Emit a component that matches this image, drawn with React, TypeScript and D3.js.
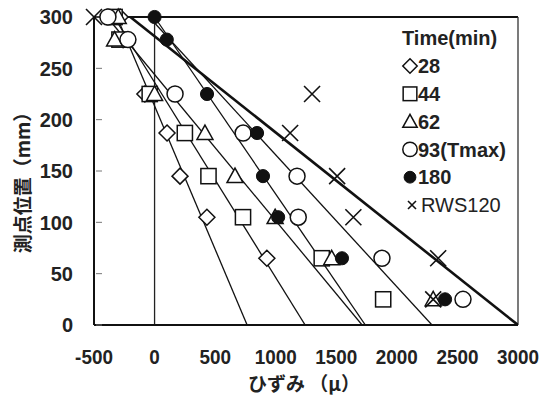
import React from "react";
import * as d3 from "d3";

const depths = [300, 278, 225, 187, 145, 105, 65, 25];
const s28 = [-285, -260, -80, 103, 210, 432, 927, null];
const s44 = [-330, -290, -40, 250, 445, 730, 1380, 1887];
const s62 = [-300, -330, 0, 416, 664, 995, 1462, 2300];
const s93 = [-385, -220, 169, 731, 1176, 1186, 1877, 2546];
const s180 = [0, 101, 433, 846, 895, 1020, 1547, 2398];
const sRWS = [-500, null, 1300, 1119, 1507, 1641, 2341, 2300];

// reference lines: strain at depth 300 and at depth 0
const lineTop = [-310, -335, -393, 0, -45, -200];
const lineBottom = [764, 1243, 1713, 1740, 2290, 3000];
const lineWidths = [1.3, 1.3, 1.3, 1.3, 1.3, 2.6];

const xTicks = [-500, 0, 500, 1000, 1500, 2000, 2500, 3000];
const yTicks = [0, 50, 100, 150, 200, 250, 300];

const legendLabels = ["28", "44", "62", "93(Tmax)", "180", "RWS120"];
const shapes = ["diamond", "square", "triangle", "circle", "filled", "cross"];
const seriesList = [s28, s44, s62, s93, s180, sRWS];

const NUMFONT = "'Liberation Sans', Arial, sans-serif";
const LEGFONT = "'Liberation Sans', Arial, sans-serif";
const CJK = "'Noto Sans CJK JP', sans-serif";

function Marker({ shape, x, y, scale = 1 }: { shape: string; x: number; y: number; scale?: number }) {
  const s = 8 * scale;
  const stroke = "#111";
  const sw = 1.5;
  switch (shape) {
    case "diamond":
      return <path d={`M${x},${y - s} L${x + s},${y} L${x},${y + s} L${x - s},${y} Z`} fill="white" stroke={stroke} strokeWidth={sw} />;
    case "square":
      return <rect x={x - s * 0.95} y={y - s * 0.95} width={s * 1.9} height={s * 1.9} fill="white" stroke={stroke} strokeWidth={sw} />;
    case "triangle":
      return <path d={`M${x},${y - s} L${x + s},${y + s * 0.8} L${x - s},${y + s * 0.8} Z`} fill="white" stroke={stroke} strokeWidth={sw} />;
    case "circle":
      return <circle cx={x} cy={y} r={s} fill="white" stroke={stroke} strokeWidth={sw} />;
    case "filled":
      return <circle cx={x} cy={y} r={s * 0.82} fill="#111" stroke={stroke} strokeWidth={1} />;
    case "cross":
      return (
        <path d={`M${x - s},${y - s} L${x + s},${y + s} M${x + s},${y - s} L${x - s},${y + s}`} stroke={stroke} strokeWidth={1.6} fill="none" />
      );
  }
  return null;
}

export default function App() {
  const W = 552, H = 399;
  const x = d3.scaleLinear().domain([-500, 3000]).range([94, 518]);
  const y = d3.scaleLinear().domain([0, 300]).range([325, 17]);
  const lineGen = d3.line<[number, number]>().x((d) => x(d[0])).y((d) => y(d[1]));

  return (
    <svg width={W} height={H} style={{ position: "absolute", left: 0, top: 0, background: "white" }}>
      <rect width={W} height={H} fill="white" />
      <defs>
        <clipPath id="plot">
          <rect x={94} y={10} width={424} height={315} />
        </clipPath>
      </defs>
      {/* frame */}
      <line x1={x(-500)} x2={x(3000)} y1={y(300)} y2={y(300)} stroke="#111" strokeWidth={2} />
      <line x1={x(3000)} x2={x(3000)} y1={y(300)} y2={y(0)} stroke="#333" strokeWidth={1.3} />
      <line x1={x(0)} x2={x(0)} y1={y(300)} y2={y(0)} stroke="#222" strokeWidth={1.3} />
      <line x1={x(-500)} x2={x(-500)} y1={y(300)} y2={y(0)} stroke="#111" strokeWidth={2} />
      <line x1={x(-500)} x2={x(3000)} y1={y(0)} y2={y(0)} stroke="#111" strokeWidth={2} />
      {yTicks.map((t) => (
        <line key={t} x1={x(-500) + 2} x2={x(-500) + 8} y1={y(t)} y2={y(t)} stroke="#777" strokeWidth={1} />
      ))}
      {/* lines */}
      <g clipPath="url(#plot)">
        {lineTop.map((t, i) => (
          <path
            key={i}
            d={lineGen([[t, 300], [lineBottom[i], 0]]) || ""}
            stroke="#111"
            strokeWidth={lineWidths[i]}
            fill="none"
          />
        ))}
      </g>
      {/* points */}
      {seriesList.map((s, si) =>
        s.map((v, di) =>
          v === null ? null : <Marker key={`${si}-${di}`} shape={shapes[si]} x={x(v)} y={y(depths[di])} />
        )
      )}
      {/* axis labels */}
      {yTicks.map((t) => (
        <text key={t} x={73} y={y(t)} dy="0.36em" textAnchor="end" fontFamily={NUMFONT} fontWeight="bold" fontSize={20} fill="#222">
          {t}
        </text>
      ))}
      {xTicks.map((t) => (
        <text
          key={t}
          transform={`translate(${x(t)},364) scale(0.9,1)`}
          textAnchor="middle"
          fontFamily={NUMFONT}
          fontWeight="bold"
          fontSize={21}
          fill="#222"
        >
          {t}
        </text>
      ))}
      <text x={304} y={391} textAnchor="middle" fontFamily={CJK} fontWeight="bold" fontSize={19} fill="#222">
        ひずみ （μ）
      </text>
      <text
        transform={`translate(30,178) rotate(-90)`}
        textAnchor="middle"
        fontFamily={CJK}
        fontWeight="bold"
        fontSize={19}
        fill="#222"
      >
        測点位置（mm）
      </text>
      {/* legend */}
      <text x={402} y={45} fontFamily={LEGFONT} fontWeight="bold" fontSize={20} fill="#222">
        Time(min)
      </text>
      {legendLabels.map((l, i) => {
        const ly = 66 + i * 27.8;
        const isX = i === 5;
        return (
          <g key={l}>
            <Marker shape={shapes[i]} x={isX ? 412 : 410} y={ly} scale={isX ? 0.5 : 0.9} />
            <text x={isX ? 421 : 418} y={ly} dy="0.36em" fontFamily={LEGFONT} fontWeight={isX ? "normal" : "bold"} fontSize={20} fill="#222">
              {l}
            </text>
          </g>
        );
      })}
    </svg>
  );
}
